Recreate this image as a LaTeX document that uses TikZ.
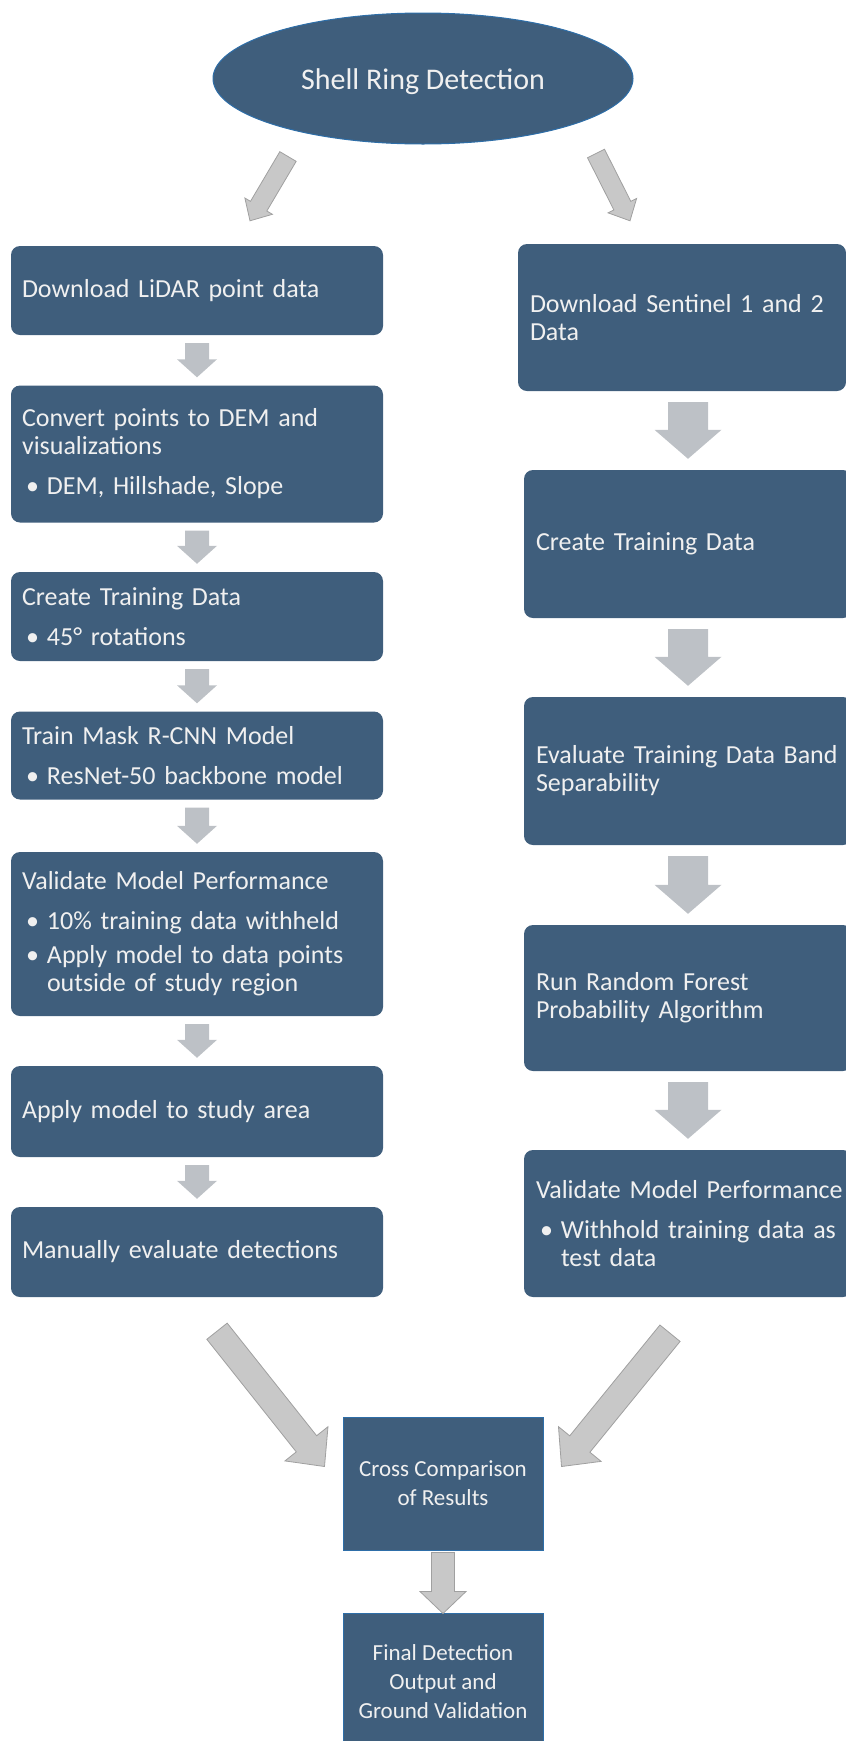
\documentclass[tikz,border=0pt]{standalone}
\usepackage{fontspec}
\setmainfont{Carlito}
\usetikzlibrary{shapes.geometric,calc}
\definecolor{boxblue}{HTML}{3F5E7C}
\definecolor{edgeblue}{HTML}{2E6EA8}
\definecolor{txt}{HTML}{F0F0F0}
\definecolor{arrfill}{HTML}{BDC1C6}
\definecolor{bigfill}{HTML}{C8C8C8}
\definecolor{bigedge}{HTML}{A0A0A0}
\newcommand\bul{\hspace*{4pt}\makebox[21pt][l]{•}}
\newcommand\hangsp{\hspace*{25pt}}
% block arrow: #1 style, #2 start, #3 tip, #4 shaft half width, #5 head half width, #6 head length
\newcommand\barrow[6]{%
  \coordinate (ba-s) at #2;
  \coordinate (ba-e) at #3;
  \coordinate (ba-n) at ($(ba-e)!#6!(ba-s)$);
  \path[#1] ($(ba-s)!#4!90:(ba-e)$) -- ($(ba-n)!#4!90:(ba-e)$) -- ($(ba-n)!#5!90:(ba-e)$) -- (ba-e)
    -- ($(ba-n)!#5!-90:(ba-e)$) -- ($(ba-n)!#4!-90:(ba-e)$) -- ($(ba-s)!#4!-90:(ba-e)$) -- cycle;
}
\begin{document}
\begin{tikzpicture}[x=1pt,y=-1pt,
  stepbox/.style={rectangle, rounded corners=9pt, fill=boxblue, text=txt,
    font=\fontsize{26}{28}\selectfont, align=left, anchor=center, inner ysep=0pt},
  lbox/.style={stepbox, minimum width=372pt, text width=350pt, inner xsep=11pt},
  rbox/.style={stepbox, minimum width=328pt, text width=304pt, inner xsep=12pt},
  sqbox/.style={rectangle, fill=boxblue, draw=edgeblue, line width=1pt, text=txt,
    font=\fontsize{23}{29}\selectfont, align=center, minimum width=200pt, inner sep=0pt},
  smallarr/.style={fill=arrfill},
  bigarr/.style={fill=bigfill, draw=bigedge, line width=0.8pt, line join=miter},
]
\useasboundingbox (0,0) rectangle (846,1741);
\clip (0,0) rectangle (846,1741);

\node[ellipse, fill=boxblue, draw=edgeblue, line width=1pt, minimum width=420pt,
  minimum height=131pt, inner sep=0pt, text=txt, font=\fontsize{30}{36}\selectfont]
  (title) at (423,78.5) {\raisebox{-3pt}[\height][\depth]{Shell Ring Detection}};

% left column
\node[lbox, minimum height=89pt] (L1) at (197,290.5) {Download LiDAR point data};
\node[lbox, minimum height=137pt] (L2) at (197,454) {Convert points to DEM and\\visualizations\\[12pt]\bul DEM, Hillshade, Slope};
\node[lbox, minimum height=89pt] (L3) at (197,616.5) {Create Training Data\\[12pt]\bul 45° rotations};
\node[lbox, minimum height=88pt] (L4) at (197,755.5) {Train Mask R-CNN Model\\[12pt]\bul ResNet-50 backbone model};
\node[lbox, minimum height=164pt] (L5) at (197,934) {Validate Model Performance\\[12pt]\bul 10\% training data withheld\\[6pt]\bul Apply model to data points\\\hangsp outside of study region};
\node[lbox, minimum height=91pt] (L6) at (197,1111.5) {Apply model to study area};
\node[lbox, minimum height=90pt] (L7) at (197,1252) {Manually evaluate detections};

% right column
\node[rbox, minimum height=147pt] (R1) at (682,317.5) {\mbox{Download Sentinel 1 and 2}\\Data};
\node[rbox, minimum height=148pt] (R2) at (688,544) {Create Training Data};
\node[rbox, minimum height=148pt] (R3) at (688,771) {\mbox{Evaluate Training Data Band}\\Separability};
\node[rbox, minimum height=146pt] (R4) at (688,998) {Run Random Forest\\Probability Algorithm};
\node[rbox, minimum height=147pt] (R5) at (688,1223.5) {\mbox{Validate Model Performance}\\[12pt]\bul \mbox{Withhold training data as}\\\hangsp test data};

% bottom
\node[sqbox, minimum height=133pt] (cross) at (443,1483.5) {Cross Comparison\\of Results};
\node[sqbox, minimum height=138pt] (final) at (443,1682) {Final Detection\\Output and\\Ground Validation};

% arrows from title
\barrow{bigarr}{($(title.south)+(-135,12)$)}{($(L1.north)+(53,-25)$)}{9.5pt}{16pt}{17pt}
\barrow{bigarr}{($(title.south)+(173,9)$)}{($(R1.north)+(-52,-23)$)}{9.5pt}{16pt}{17pt}

% left column arrows
\barrow{smallarr}{($(L1.south)+(0,8)$)}{($(L2.north)+(0,-8)$)}{12pt}{20pt}{18pt}
\barrow{smallarr}{($(L2.south)+(0,8)$)}{($(L3.north)+(0,-8)$)}{12pt}{20pt}{18pt}
\barrow{smallarr}{($(L3.south)+(0,8)$)}{($(L4.north)+(0,-8)$)}{12pt}{20pt}{18pt}
\barrow{smallarr}{($(L4.south)+(0,8)$)}{($(L5.north)+(0,-8)$)}{12pt}{20pt}{18pt}
\barrow{smallarr}{($(L5.south)+(0,8)$)}{($(L6.north)+(0,-8)$)}{12pt}{20pt}{18pt}
\barrow{smallarr}{($(L6.south)+(0,8)$)}{($(L7.north)+(0,-8)$)}{12pt}{20pt}{18pt}

% right column arrows
\barrow{smallarr}{($(R1.south -| R2.north)+(0,11)$)}{($(R2.north)+(0,-11)$)}{20pt}{33.5pt}{29pt}
\barrow{smallarr}{($(R2.south)+(0,11)$)}{($(R3.north)+(0,-11)$)}{20pt}{33.5pt}{29pt}
\barrow{smallarr}{($(R3.south)+(0,11)$)}{($(R4.north)+(0,-11)$)}{20pt}{33.5pt}{29pt}
\barrow{smallarr}{($(R4.south)+(0,11)$)}{($(R5.north)+(0,-11)$)}{20pt}{33.5pt}{29pt}

% converging arrows
\barrow{bigarr}{($(L7.south)+(20,34)$)}{($(cross.north west)+(-18,50)$)}{13pt}{27.5pt}{29pt}
\barrow{bigarr}{($(R5.south)+(-18,36)$)}{($(cross.north east)+(18,50)$)}{13pt}{27.5pt}{29pt}
\barrow{bigarr}{($(cross.south)+(0,2)$)}{($(final.north)+(0,1)$)}{11.5pt}{23pt}{22pt}
\end{tikzpicture}
\end{document}
